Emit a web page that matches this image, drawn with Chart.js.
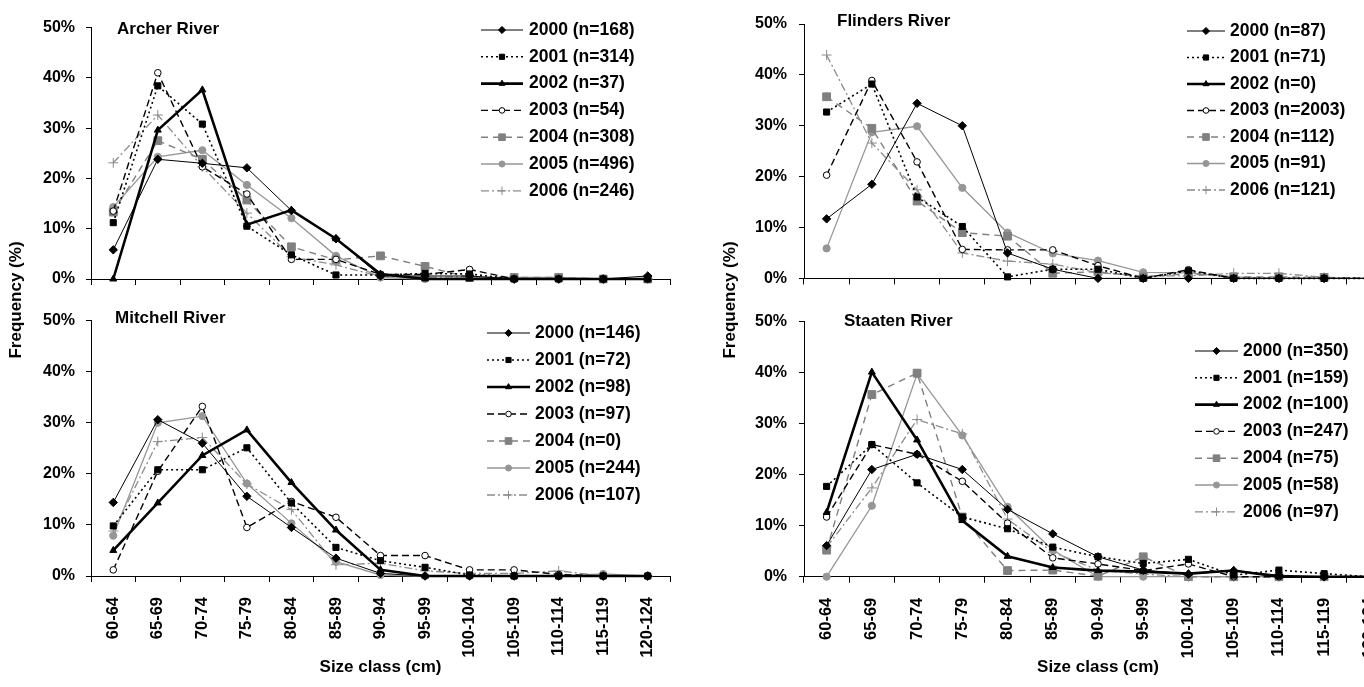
<!DOCTYPE html>
<html>
<head>
<meta charset="utf-8">
<script src="https://cdn.jsdelivr.net/npm/chart.js@4.4.0/dist/chart.umd.min.js"></script>
<style>
  html, body { margin: 0; padding: 0; background: #fff; overflow: hidden; width: 1364px; height: 687px; }
  canvas { position: absolute; }
  .ytitle {
    position: absolute; width: 200px; height: 20px; line-height: 20px; text-align: center;
    font: bold 17px "Liberation Sans", Arial, sans-serif; color: #000;
    transform: rotate(-90deg); white-space: nowrap;
  }
</style>
</head>
<body>
<canvas id="archer" width="700" height="300" style="left:0;top:0"></canvas>
<canvas id="mitchell" width="700" height="387" style="left:0;top:300px"></canvas>
<canvas id="flinders" width="714" height="300" style="left:700px;top:0"></canvas>
<canvas id="staaten" width="714" height="387" style="left:700px;top:300px"></canvas>
<div class="ytitle" style="left:-84px;top:290px">Frequency (%)</div>
<div class="ytitle" style="left:630px;top:290px">Frequency (%)</div>
<script>
const sizeClasses = ['60-64', '65-69', '70-74', '75-79', '80-84', '85-89', '90-94',
  '95-99', '100-104', '105-109', '110-114', '115-119', '120-124']
const years = ['2000', '2001', '2002', '2003', '2004', '2005', '2006']

// sample sizes per year
const archerN = [168, 314, 37, 54, 308, 496, 246]
const flindersN = [87, 71, 0, 2003, 112, 91, 121]
const mitchellN = [146, 72, 98, 97, 0, 244, 107]
const staatenN = [350, 159, 100, 247, 75, 58, 97]

// Archer River (%)
const archer2000 = [5.8, 23.8, 23.0, 22.1, 13.6, 8.0, 0.6, 0.6, 0.6, 0, 0, 0, 0.6]
const archer2001 = [11.2, 38.4, 30.8, 10.5, 4.8, 0.8, 0.8, 1.1, 1.0, 0, 0, 0, 0]
const archer2002 = [0, 29.6, 37.6, 10.8, 13.7, 8.0, 1.0, 0, 0, 0, 0, 0, 0]
const archer2003 = [13.5, 41.0, 22.3, 16.9, 3.9, 3.9, 0.9, 0.9, 1.9, 0, 0, 0, 0]
const archer2004 = [13.3, 27.5, 23.8, 15.7, 6.4, 3.8, 4.6, 2.5, 0.3, 0.3, 0.3, 0, 0]
const archer2005 = [14.3, 24.3, 25.6, 18.7, 12.1, 4.6, 0.3, 0, 0.3, 0.3, 0.3, 0, 0]
const archer2006 = [23.1, 32.6, 22.3, 13.1, 4.4, 2.8, 0.5, 0.3, 0.5, 0, 0, 0, 0]

// Flinders River (%)
const flinders2000 = [11.7, 18.5, 34.4, 30.0, 5.0, 1.8, 0, 0, 0, 0, 0, 0, 0]
const flinders2001 = [32.7, 38.2, 16.0, 10.2, 0.3, 1.8, 1.8, 0, 1.5, 0, 0, 0, 0]
const flinders2002 = [null, null, null, null, null, null, null, null, null, null, null, null, null]
const flinders2003 = [20.3, 38.9, 22.9, 5.7, 5.6, 5.6, 2.5, 0, 1.7, 0, 0, 0, 0]
const flinders2004 = [35.7, 29.5, 15.2, 9.0, 8.3, 1.0, 1.3, 0.3, 0.9, 0.3, 0.3, 0.2, 0]
const flinders2005 = [5.9, 28.7, 29.9, 17.8, 9.0, 4.9, 3.5, 1.2, 1.1, 0.3, 0, 0, 0]
const flinders2006 = [43.9, 26.6, 17.4, 5.0, 3.4, 2.8, 1.1, 0.5, 0.5, 1.0, 1.0, 0.2, 0]

// Mitchell River (%)
const mitchell2000 = [14.4, 30.6, 26.0, 15.6, 9.5, 3.5, 0.5, 0, 0, 0, 0, 0, 0]
const mitchell2001 = [9.8, 20.8, 20.8, 25.1, 14.3, 5.6, 3.0, 1.7, 0.2, 0, 0, 0, 0]
const mitchell2002 = [5.0, 14.3, 23.6, 28.6, 18.3, 9.0, 1.2, 0, 0, 0, 0, 0, 0]
const mitchell2003 = [1.2, 20.5, 33.2, 9.5, 14.6, 11.5, 4.0, 4.0, 1.2, 1.2, 0.3, 0, 0]
const mitchell2004 = [null, null, null, null, null, null, null, null, null, null, null, null, null]
const mitchell2005 = [7.9, 30.0, 31.3, 18.1, 10.3, 2.8, 0.2, 0, 0, 0, 0, 0.4, 0]
const mitchell2006 = [8.8, 26.3, 27.1, 18.0, 13.0, 2.2, 2.5, 1.0, 0.5, 0.5, 1.0, 0, 0]

// Staaten River (%)
const staaten2000 = [6.1, 21.0, 24.0, 21.0, 13.2, 8.4, 3.9, 1.3, 0.5, 1.2, 0.3, 0, 0]
const staaten2001 = [17.7, 25.9, 18.4, 11.7, 9.4, 5.8, 3.9, 2.6, 3.4, 0.3, 1.3, 0.6, 0]
const staaten2002 = [12.6, 40.1, 26.8, 11.0, 4.0, 1.8, 1.2, 1.0, 0.6, 1.2, 0, 0, 0]
const staaten2003 = [11.7, 25.9, 24.0, 18.7, 10.5, 3.7, 2.5, 1.2, 2.5, 0, 0, 0, 0]
const staaten2004 = [5.2, 35.7, 39.9, 11.7, 1.2, 1.3, 0.1, 3.9, 0, 0, 0, 0, 0]
const staaten2005 = [0, 13.9, 39.7, 27.7, 13.7, 5.2, 0, 0, 0, 0, 0, 0, 0]
const staaten2006 = [5.8, 17.4, 30.8, 28.0, 11.3, 4.8, 1.3, 0.5, 0, 0, 0, 0, 0]

const FONT = '"Liberation Sans", Arial, sans-serif'

// line + marker look for each year
const yearStyles = [
  { borderColor: '#000', borderWidth: 1, borderDash: [], pointStyle: 'rectRot', pointRadius: 4.2, pointBackgroundColor: '#000' },
  { borderColor: '#000', borderWidth: 1.6, borderDash: [2, 3], pointStyle: 'rect', pointRadius: 4.3, pointBackgroundColor: '#000' },
  { borderColor: '#000', borderWidth: 2.6, borderDash: [], pointStyle: 'triangle', pointRadius: 4, pointBackgroundColor: '#000' },
  { borderColor: '#000', borderWidth: 1.4, borderDash: [7, 4], pointStyle: 'circle', pointRadius: 3.3, pointBackgroundColor: '#fff' },
  { borderColor: '#808080', borderWidth: 1.4, borderDash: [7, 5], pointStyle: 'rect', pointRadius: 5.5, pointBackgroundColor: '#808080' },
  { borderColor: '#969696', borderWidth: 1.3, borderDash: [], pointStyle: 'circle', pointRadius: 3.6, pointBackgroundColor: '#969696' },
  { borderColor: '#8c8c8c', borderWidth: 1.3, borderDash: [8, 3, 2, 3], pointStyle: 'cross', pointRadius: 5, pointBackgroundColor: '#8c8c8c' }
]

// panel title + legend drawn inside the plot
const panelDecor = {
  id: 'panelDecor',
  afterDraw(chart, args, opts) {
    const ctx = chart.ctx
    ctx.save()
    ctx.fillStyle = '#000'
    ctx.textBaseline = 'middle'
    ctx.textAlign = 'left'
    ctx.font = 'bold 17px ' + FONT
    ctx.fillText(opts.title, opts.titleX, opts.titleY)

    chart.data.datasets.forEach((ds, i) => {
      const y = opts.legendY + i * opts.legendGap
      ctx.save()
      ctx.strokeStyle = ds.borderColor
      ctx.lineWidth = ds.borderWidth
      ctx.setLineDash(ds.borderDash)
      ctx.beginPath()
      ctx.moveTo(opts.lineX1, y)
      ctx.lineTo(opts.lineX2, y)
      ctx.stroke()
      ctx.setLineDash([])
      ctx.fillStyle = ds.pointBackgroundColor
      ctx.strokeStyle = ds.borderColor
      ctx.lineWidth = 1
      Chart.helpers.drawPoint(ctx, {
        pointStyle: ds.pointStyle,
        radius: ds.pointRadius * 0.85,
        rotation: 0,
        borderWidth: 1
      }, (opts.lineX1 + opts.lineX2) / 2, y)
      ctx.restore()

      ctx.fillStyle = '#000'
      ctx.font = 'bold 17.5px ' + FONT
      ctx.fillText(ds.label, opts.textX, y)
    })
    ctx.restore()
  }
}

function makeDatasets(seriesList, nList) {
  return seriesList.map((values, i) => {
    const st = yearStyles[i]
    return {
      label: `${years[i]} (n=${nList[i]})`,
      data: values,
      borderColor: st.borderColor,
      borderWidth: st.borderWidth,
      borderDash: st.borderDash,
      pointStyle: st.pointStyle,
      pointRadius: st.pointRadius,
      pointHoverRadius: st.pointRadius,
      pointBackgroundColor: st.pointBackgroundColor,
      pointBorderColor: st.borderColor,
      pointBorderWidth: 1,
      tension: 0,
      fill: false,
      clip: false
    }
  })
}

function renderPanel(id, seriesList, nList, layout) {
  const ctx = document.getElementById(id)
  return new Chart(ctx, {
    type: 'line',
    data: { labels: sizeClasses, datasets: makeDatasets(seriesList, nList) },
    options: {
      responsive: false,
      animation: false,
      events: [],
      layout: { padding: { top: layout.padTop, right: layout.padRight, left: 0, bottom: 0 } },
      plugins: {
        legend: { display: false },
        tooltip: { enabled: false },
        panelDecor: layout.decor
      },
      scales: {
        x: {
          type: 'category',
          offset: true,
          afterFit: (scale) => { scale.height = layout.xHeight },
          grid: {
            display: true,
            offset: true,
            drawOnChartArea: false,
            drawTicks: true,
            tickLength: 6,
            color: '#000'
          },
          border: { display: true, color: '#000', width: 1 },
          ticks: {
            display: layout.showLabels,
            autoSkip: false,
            minRotation: 90,
            maxRotation: 90,
            padding: 15,
            color: '#000',
            font: { family: FONT, size: 16.5, weight: 'bold' }
          },
          title: {
            display: layout.showLabels,
            text: 'Size class (cm)',
            color: '#000',
            padding: { top: 0, bottom: 9 },
            font: { family: FONT, size: 17, weight: 'bold' }
          }
        },
        y: {
          type: 'linear',
          min: 0,
          max: 50,
          afterFit: (scale) => { scale.width = layout.yWidth },
          grid: {
            display: true,
            drawOnChartArea: false,
            drawTicks: true,
            tickLength: 5,
            color: '#000'
          },
          border: { display: true, color: '#000', width: 1 },
          ticks: {
            stepSize: 10,
            padding: layout.yPad,
            color: '#000',
            font: { family: FONT, size: 16, weight: 'bold' },
            callback: (value) => value + '%'
          }
        }
      }
    },
    plugins: [panelDecor]
  })
}

renderPanel('archer',
  [archer2000, archer2001, archer2002, archer2003, archer2004, archer2005, archer2006], archerN,
  { padTop: 27.5, padRight: 30, xHeight: 21, yWidth: 91, yPad: 11, showLabels: false,
    decor: { title: 'Archer River', titleX: 117, titleY: 29, lineX1: 481, lineX2: 523, textX: 529, legendY: 30, legendGap: 26.8 } })

renderPanel('mitchell',
  [mitchell2000, mitchell2001, mitchell2002, mitchell2003, mitchell2004, mitchell2005, mitchell2006], mitchellN,
  { padTop: 16, padRight: 30, xHeight: 111, yWidth: 91, yPad: 11, showLabels: true,
    decor: { title: 'Mitchell River', titleX: 115, titleY: 18, lineX1: 487, lineX2: 530, textX: 535, legendY: 33, legendGap: 27 } })

renderPanel('flinders',
  [flinders2000, flinders2001, flinders2002, flinders2003, flinders2004, flinders2005, flinders2006], flindersN,
  { padTop: 24, padRight: 22, xHeight: 17, yWidth: 104, yPad: 12, showLabels: false,
    decor: { title: 'Flinders River', titleX: 137, titleY: 21, lineX1: 487, lineX2: 525, textX: 530, legendY: 31, legendGap: 26.5 } })

renderPanel('staaten',
  [staaten2000, staaten2001, staaten2002, staaten2003, staaten2004, staaten2005, staaten2006], staatenN,
  { padTop: 18.3, padRight: 22, xHeight: 110.3, yWidth: 104, yPad: 12, showLabels: true,
    decor: { title: 'Staaten River', titleX: 144, titleY: 21, lineX1: 495, lineX2: 538, textX: 543, legendY: 51, legendGap: 26.8 } })
</script>
</body>
</html>
